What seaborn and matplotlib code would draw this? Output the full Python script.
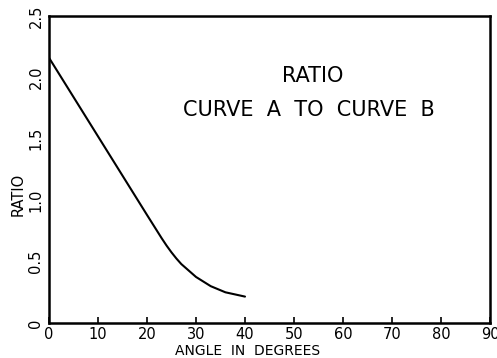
import matplotlib
matplotlib.use("Agg")
import matplotlib.pyplot as plt
import seaborn as sns
import pandas as pd

angle = [0, 5, 10, 15, 20, 23, 24, 25, 26, 27, 28, 30, 33, 36, 40]
ratio = [2.16, 1.84, 1.52, 1.20, 0.88, 0.69, 0.63, 0.575, 0.525, 0.48, 0.445, 0.375, 0.30, 0.25, 0.215]
x_ticks = [0, 10, 20, 30, 40, 50, 60, 70, 80, 90]
y_ticks = [0, 0.5, 1.0, 1.5, 2.0, 2.5]
y_labels = ["0", "0.5", "1.0", "1.5", "2.0", "2.5"]

sns.set_style("ticks")
plt.rcParams['font.family'] = ['DejaVu Sans']
plt.rcParams['text.color'] = 'black'
plt.rcParams['axes.labelcolor'] = 'black'

df = pd.DataFrame({"angle": angle, "ratio": ratio})
fig = plt.figure(figsize=(4.97, 3.58), dpi=100)
ax = fig.add_axes([49/497, 35/358, 441/497, 307/358])
sns.lineplot(data=df, x="angle", y="ratio", ax=ax, color="black", linewidth=1.5)
ax.set_xlim(0, 90)
ax.set_ylim(0, 2.5)
ax.set_xticks(x_ticks)
ax.set_xticklabels([str(t) for t in x_ticks], fontsize=10.5)
ax.set_yticks(y_ticks)
ax.set_yticklabels(y_labels, fontsize=10.5, rotation=90, va="center")
ax.tick_params(axis="x", direction="in", length=4, width=1.2, colors="black", pad=3)
ax.tick_params(axis="y", direction="in", length=0, colors="black", pad=4)
for s in ax.spines.values():
    s.set_linewidth(1.8)
    s.set_color("black")
ax.set_xlabel("ANGLE  IN  DEGREES", fontsize=10, labelpad=0)
ax.xaxis.set_label_coords(0.45, -0.067)
ax.set_ylabel("RATIO", fontsize=10.5)
ax.yaxis.set_label_coords(-0.052, 0.42)
ax.text(0.599, 0.805, "RATIO", transform=ax.transAxes, fontsize=15, ha="center", va="center")
ax.text(0.59, 0.694, "CURVE  A  TO  CURVE  B", transform=ax.transAxes, fontsize=15, ha="center", va="center")
fig.savefig("out.png", dpi=100)
